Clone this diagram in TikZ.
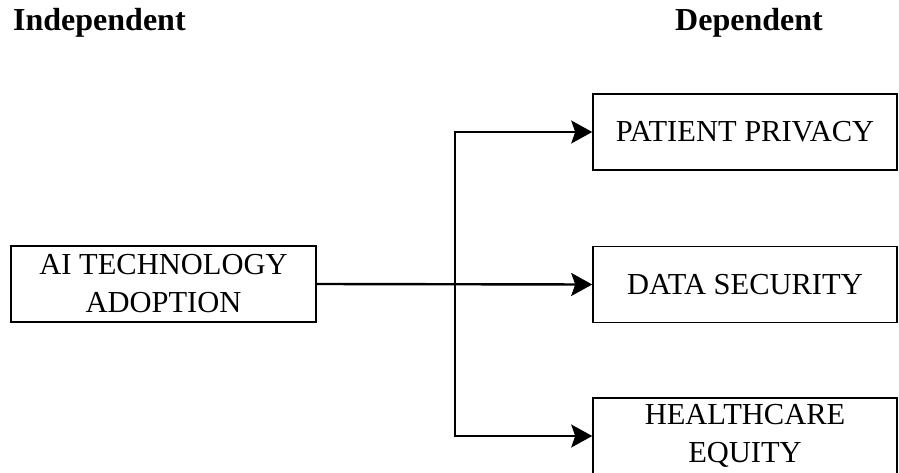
\documentclass[tikz,border=0pt]{standalone}
\usepackage{fontspec}
\setmainfont{Liberation Serif}
\usetikzlibrary{arrows.meta}
\tikzset{varbox/.style={draw=black,line width=1.6pt,minimum width=305pt,minimum height=76pt,
  inner sep=0pt,align=center,font=\fontsize{30.5}{38}\selectfont}}
\tikzset{title/.style={inner sep=0pt,font=\fontsize{32}{38}\selectfont\bfseries}}
\tikzset{link/.style={line width=1.6pt,-{Stealth[length=21pt,width=23pt,inset=4pt]}}}

\begin{document}
\begin{tikzpicture}[x=1pt,y=-1pt]
	\useasboundingbox (0,0) rectangle (899,473);
	% headings
	\node [title,anchor=base west] (indep) at (13,31) {Independent};
	\node [title,anchor=base] (dep) at (749,31) {Dependent};
	% variables
	\node [varbox] (ai) at (163.5,284) {AI TECHNOLOGY\\ADOPTION};
	\node [varbox,minimum width=304pt] (pp) at (745,132) {PATIENT PRIVACY};
	\node [varbox,minimum width=304pt] (ds) at (745,284.5) {DATA SECURITY};
	\node [varbox,minimum width=304pt] (he) at (745,436) {HEALTHCARE\\EQUITY};
	% branch point
	\coordinate (j) at (455,284);

	\draw [link,line width=2.4pt] (ai.east) -- (ds.west);
	\draw [link] (j) |- (pp.west);
	\draw [link] (j) |- (he.west);
\end{tikzpicture}
\end{document}
